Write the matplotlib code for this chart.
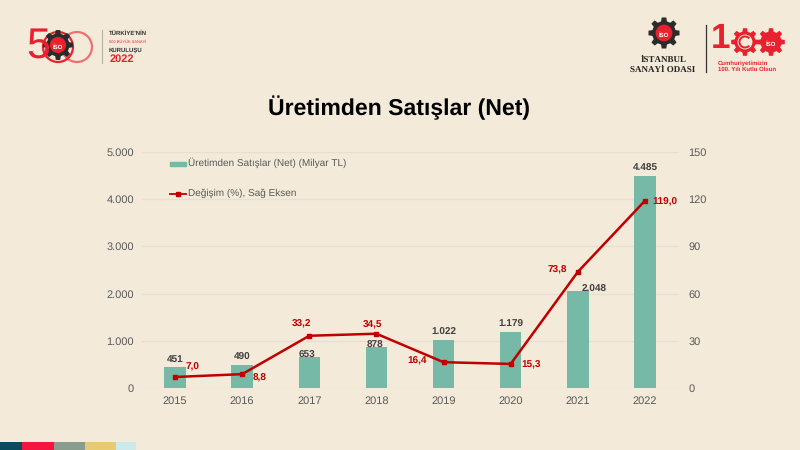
import numpy as np
import matplotlib
matplotlib.use("Agg")
import matplotlib.pyplot as plt
from matplotlib.patches import Rectangle, Circle, Wedge, Polygon

years = ["2015", "2016", "2017", "2018", "2019", "2020", "2021", "2022"]
sales = [451, 490, 653, 878, 1022, 1179, 2048, 4485]
change = [7.0, 8.8, 33.2, 34.5, 16.4, 15.3, 73.8, 119.0]
sales_labels = ["451", "490", "653", "878", "1.022", "1.179", "2.048", "4.485"]
change_labels = ["7,0", "8,8", "33,2", "34,5", "16,4", "15,3", "73,8", "119,0"]
left_ticks = [0, 1000, 2000, 3000, 4000, 5000]
left_tick_labels = ["0", "1.000", "2.000", "3.000", "4.000", "5.000"]
right_ticks = [0, 30, 60, 90, 120, 150]
title = "Üretimden Satışlar (Net)"
bar_name = "Üretimden Satışlar (Net) (Milyar TL)"
line_name = "Değişim (%), Sağ Eksen"
strip_colors = ["#0a4a5c", "#f5143f", "#8a9c8e", "#e8ca72", "#cdeaea"]
strip_edges = [0, 22, 54, 85, 116, 136]

plt.rcParams["font.family"] = ["Liberation Sans", "DejaVu Sans"]
plt.rcParams["text.hinting"] = "no_hinting"
plt.rcParams["text.hinting_factor"] = 1
BG = "#f3ead9"
TXT = "#595959"
DARK = "#404040"
RED = "#c00000"
W, H = 800, 450
fig = plt.figure(figsize=(8, 4.5), dpi=100, facecolor=BG)

def px_axes(x0, y_top, x1, y_bot):
    return fig.add_axes([x0 / W, 1 - y_bot / H, (x1 - x0) / W, (y_bot - y_top) / H])

ax = px_axes(141.5, 152, 678.5, 388)
ax.set_facecolor("none")
x = np.arange(len(years))
ax.set_axisbelow(True)
ax.yaxis.grid(True, color="#e6dfd8", lw=0.9)
ax.bar(x, sales, width=0.32, color="#76b9a6", zorder=2)
ax.set_xlim(-0.5, 7.5)
ax.set_ylim(0, 5000)
ax.set_xticks(x, years)
ax.set_yticks(left_ticks, left_tick_labels)
ax.tick_params(length=0, labelsize=8, labelcolor=TXT)
ax.tick_params(axis="x", pad=6)
ax.tick_params(axis="y", pad=5.5)
for s in ax.spines.values():
    s.set_visible(False)

ax2 = ax.twinx()
ax2.set_ylim(0, 150)
ax2.set_yticks(right_ticks)
ax2.tick_params(length=0, labelsize=8, labelcolor=TXT, pad=7)
for s in ax2.spines.values():
    s.set_visible(False)
ax2.plot(x, change, color=RED, lw=1.8, marker="s", ms=3.2, zorder=5)

bar_off = [(0, 3), (0, 3), (-2, -3), (-1, -3), (0, 3), (0, 3), (16, -3), (0, 3)]
for i, (v, lab) in enumerate(zip(sales, sales_labels)):
    dx, dy = bar_off[i]
    ax.annotate(lab, (i, v), xytext=(dx, dy), textcoords="offset pixels",
                ha="center", va="bottom", fontsize=7.5, fontweight="bold", color=DARK, zorder=6)

line_off = [(17, 10), (17, -4), (-8, 12), (-4, 9), (-26, 1), (20, -1), (-21, 2), (20, -1)]
for i, (v, lab) in enumerate(zip(change, change_labels)):
    dx, dy = line_off[i]
    ax2.annotate(lab, (i, v), xytext=(dx, dy), textcoords="offset pixels",
                 ha="center", va="center", fontsize=7.4, fontweight="bold", color=RED, zorder=6)

ov = fig.add_axes([0, 0, 1, 1], zorder=10)
ov.set_xlim(0, W)
ov.set_ylim(H, 0)
ov.axis("off")
ov.patch.set_alpha(0)

ov.text(399.5, 108, title, ha="center", va="center", fontsize=16.9, fontweight="bold", color="black")

ov.add_patch(Rectangle((170, 162), 16, 4, color="#76b9a6"))
ov.text(188, 163, bar_name, ha="left", va="center", fontsize=7.5, color=TXT)
ov.plot([170, 186], [193.5, 193.5], color=RED, lw=1.3)
ov.plot([178], [193.5], marker="s", ms=3, color=RED)
ov.text(188, 193.5, line_name, ha="left", va="center", fontsize=7.5, color=TXT)

for c, a, b in zip(strip_colors, strip_edges[:-1], strip_edges[1:]):
    ov.add_patch(Rectangle((a, 442), b - a, 8, color=c, lw=0))

LOGO_RED = "#e8212e"
LOGO_DARK = "#2b2b2b"

def gear(cx, cy, r, color, inner, teeth=8):
    ang = np.linspace(0, 2 * np.pi, teeth, endpoint=False)
    for t in ang:
        d = np.array([np.cos(t), np.sin(t)])
        n = np.array([-d[1], d[0]])
        c = np.array([cx, cy])
        pts = [c + d * r * 0.7 + n * r * 0.24, c + d * r * 1.15 + n * r * 0.17,
               c + d * r * 1.15 - n * r * 0.17, c + d * r * 0.7 - n * r * 0.24]
        ov.add_patch(Polygon(pts, color=color, lw=0))
    ov.add_patch(Circle((cx, cy), r * 0.88, color=color, lw=0))
    ov.add_patch(Circle((cx, cy), r * 0.62, color=inner, lw=0))

# Left logo: 500
ov.text(38, 47, "5", ha="center", va="center", fontsize=31, color=LOGO_RED)
ov.add_patch(Circle((77, 47), 15, fill=False, ec=LOGO_RED, lw=1.6, alpha=0.6))
ov.add_patch(Circle((58, 47), 15, fill=False, ec=LOGO_RED, lw=1.6))
gear(58, 45, 13, LOGO_DARK, LOGO_RED)
ov.text(58, 47, "İSO", ha="center", va="center", fontsize=4, fontweight="bold", color="white")
ov.plot([102, 102], [30, 63], color="#b8b2a8", lw=0.8)
ov.text(109, 33.5, "TÜRKİYE'NİN", fontsize=4.5, fontweight="bold", color="#333333", va="center")
ov.text(109, 42, "500 BÜYÜK SANAYİ", fontsize=3.2, color=LOGO_RED, va="center")
ov.text(109, 50, "KURULUŞU", fontsize=4.4, fontweight="bold", color="#333333", va="center")
ov.text(109.5, 59.5, "2022", fontsize=7.8, fontweight="bold", color=LOGO_RED, va="center")

# Right logos: İSO and 100
gear(664, 33, 13.5, LOGO_DARK, LOGO_RED)
ov.text(664, 35, "İSO", ha="center", va="center", fontsize=4, fontweight="bold", color="white")
ov.text(663.5, 60, "İSTANBUL", ha="center", va="center", fontsize=6.5, fontweight="bold",
        family="Liberation Serif", color="#222222")
ov.text(663, 70, "SANAYİ ODASI", ha="center", va="center", fontsize=6.5, fontweight="bold",
        family="Liberation Serif", color="#222222")
ov.plot([706, 706], [25, 72], color="#333333", lw=0.9)
ov.text(721, 39, "1", ha="center", va="center", fontsize=25, fontweight="bold", color=LOGO_RED)
gear(745, 42, 12, LOGO_RED, BG)
ov.add_patch(Wedge((745, 42), 6.5, 40, 320, width=2, color=LOGO_RED, lw=0))
gear(771, 42, 12, LOGO_RED, LOGO_RED)
ov.text(771, 44, "İSO", ha="center", va="center", fontsize=4, fontweight="bold", color="white")
ov.text(718, 63, "Cumhuriyetimizin", ha="left", va="center", fontsize=4, fontweight="bold", color=LOGO_RED)
ov.text(718, 69.5, "100. Yılı Kutlu Olsun", ha="left", va="center", fontsize=4.1, fontweight="bold", color=LOGO_RED)

fig.savefig("out.png", dpi=100, facecolor=BG)
